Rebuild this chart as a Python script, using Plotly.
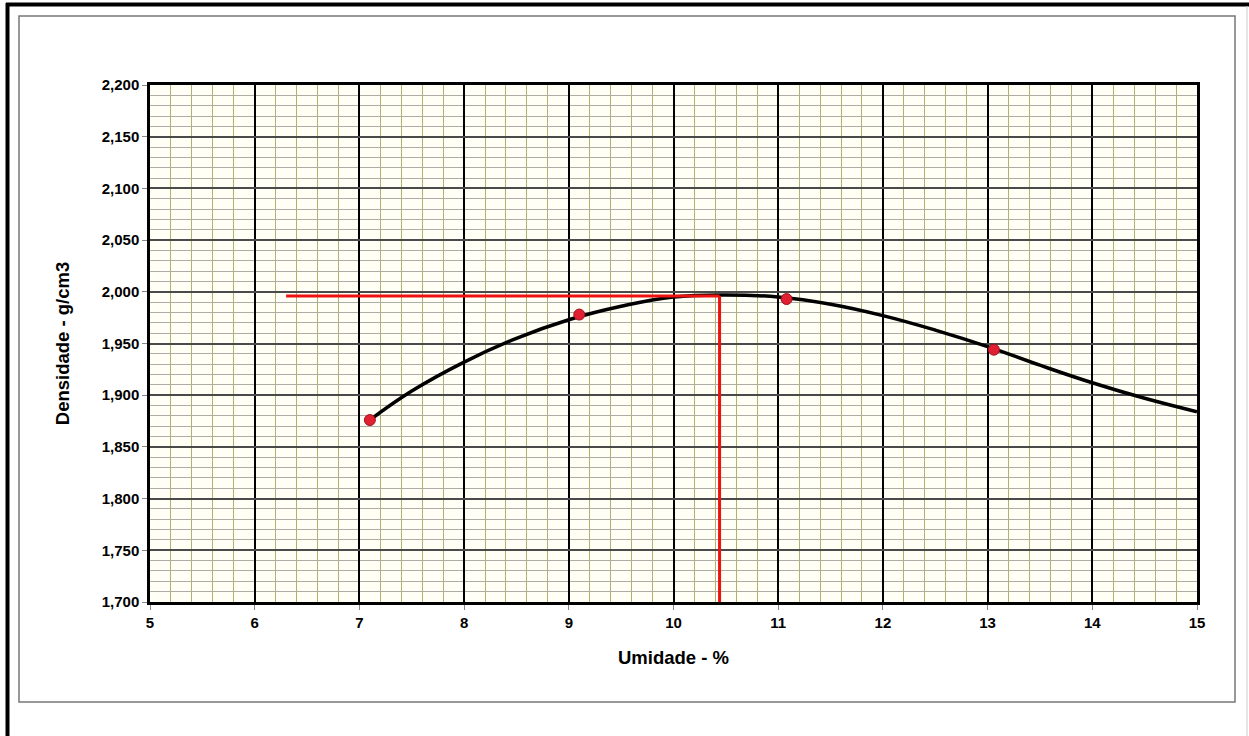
import plotly.graph_objects as go

# ---- data ----
umidade_pts = [7.1, 9.1, 11.08, 13.06]
densidade_pts = [1.876, 1.978, 1.993, 1.944]

curva_x = [7.1, 7.5, 8.0, 8.5, 9.0, 9.5, 10.0, 10.5, 11.0, 11.5, 12.0, 12.5, 13.0, 13.5, 14.0, 14.5, 15.0]
curva_y = [1.876, 1.904, 1.932, 1.955, 1.973, 1.986, 1.995, 1.997, 1.995, 1.988, 1.977, 1.963, 1.947, 1.929, 1.912, 1.897, 1.884]

umidade_otima = 10.44
densidade_max = 1.996
linha_inicio_x = 6.3

x_ticks = [5, 6, 7, 8, 9, 10, 11, 12, 13, 14, 15]
y_ticks = [1.70, 1.75, 1.80, 1.85, 1.90, 1.95, 2.00, 2.05, 2.10, 2.15, 2.20]

# ---- layout geometry (pixels) ----
W, H = 1249, 736
L, R, T, B = 150, 1197, 85, 602
pw, ph = R - L, B - T


def px(x):
    return (x - L) / pw


def py(y):
    return (B - y) / ph


FONT = "Liberation Sans, Arial, sans-serif"

fig = go.Figure()

# curve
fig.add_trace(go.Scatter(
    x=curva_x, y=curva_y, mode="lines",
    line=dict(color="black", width=3.5, shape="spline", smoothing=1.2),
    showlegend=False, hoverinfo="skip"))

# red optimum lines
fig.add_trace(go.Scatter(
    x=[linha_inicio_x, umidade_otima], y=[densidade_max, densidade_max], mode="lines",
    line=dict(color="#EE1111", width=3), showlegend=False))
fig.add_trace(go.Scatter(
    x=[umidade_otima, umidade_otima], y=[densidade_max, y_ticks[0]], mode="lines",
    line=dict(color="#EE1111", width=3), showlegend=False))

# measured points
fig.add_trace(go.Scatter(
    x=umidade_pts, y=densidade_pts, mode="markers",
    marker=dict(color="#E02030", size=11, line=dict(color="#A01020", width=1)),
    showlegend=False))

tickfont = dict(family=FONT, size=15, color="black", weight="bold")
titlefont = dict(family=FONT, size=18.5, color="black", weight="bold")

fig.update_layout(
    width=W, height=H,
    margin=dict(l=L, r=W - R, t=T, b=H - B),
    paper_bgcolor="white",
    plot_bgcolor="#FFFFF5",
    separators=",.",
    xaxis=dict(
        range=[x_ticks[0], x_ticks[-1]], tickvals=x_ticks,
        ticks="outside", ticklen=5, tickcolor="#888888",
        tickfont=tickfont,
        showgrid=True, gridcolor="black", gridwidth=2,
        minor=dict(dtick=0.2, showgrid=True, gridcolor="#B0B070", gridwidth=1.2),
        showline=True, linecolor="black", linewidth=2.5, mirror=True,
        zeroline=False,
        title=dict(text="Umidade - %", font=titlefont, standoff=22),
    ),
    yaxis=dict(
        range=[y_ticks[0], y_ticks[-1]], tickvals=y_ticks, tickformat=".3f",
        ticks="outside", ticklen=5, tickcolor="#888888",
        tickfont=tickfont,
        showgrid=True, gridcolor="#4A4A4A", gridwidth=1.5,
        minor=dict(dtick=0.01, showgrid=True, gridcolor="#ADADA5", gridwidth=1),
        showline=True, linecolor="black", linewidth=2.5, mirror=True,
        zeroline=False,
        title=dict(text="Densidade - g/cm3", font=titlefont, standoff=28),
    ),
    shapes=[
        # inner gray frame
        dict(type="rect", xref="paper", yref="paper",
             x0=px(19), x1=px(1235), y0=py(702), y1=py(16),
             line=dict(color="#777777", width=1.5), layer="below"),
        # outer black frame (left & top)
        dict(type="line", xref="paper", yref="paper",
             x0=px(7.5), x1=px(7.5), y0=py(736), y1=py(3),
             line=dict(color="black", width=4)),
        dict(type="line", xref="paper", yref="paper",
             x0=px(6), x1=px(1249), y0=py(4.5), y1=py(4.5),
             line=dict(color="black", width=4)),
        # faint right border
        dict(type="line", xref="paper", yref="paper",
             x0=px(1247), x1=px(1247), y0=py(736), y1=py(6),
             line=dict(color="#CCCCCC", width=1)),
    ],
)

fig.write_html(
    "out.html",
    config={"displayModeBar": False},
    post_script="document.body.style.margin='0';document.body.style.overflow='hidden';",
)
